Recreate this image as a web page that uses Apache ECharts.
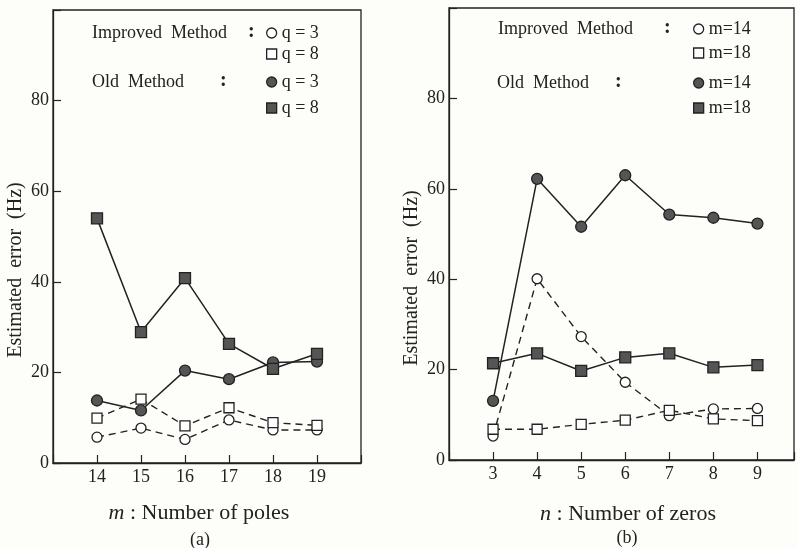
<!DOCTYPE html>
<html>
<head>
<meta charset="utf-8">
<script src="https://cdn.jsdelivr.net/npm/echarts@6/dist/echarts.min.js"></script>
<style>
  html, body { margin: 0; padding: 0; background: #fdfdf9; }
  #chart { width: 797px; height: 548px; }
</style>
</head>
<body>
<div id="chart"></div>
<script>
// (a) m : Number of poles
const poles = [14, 15, 16, 17, 18, 19]
const impQ3 = [5.7, 7.7, 5.2, 9.5, 7.3, 7.3]
const impQ8 = [9.9, 14.1, 8.2, 12.2, 8.9, 8.3]
const oldQ3 = [13.8, 11.6, 20.4, 18.5, 22.2, 22.4]
const oldQ8 = [54.0, 28.9, 40.8, 26.3, 20.8, 24.1]

// (b) n : Number of zeros
const zeros = [3, 4, 5, 6, 7, 8, 9]
const impM14 = [5.3, 40.1, 27.3, 17.2, 9.8, 11.3, 11.4]
const impM18 = [6.8, 6.8, 7.9, 8.8, 11.0, 9.1, 8.7]
const oldM14 = [13.1, 62.2, 51.6, 63.0, 54.3, 53.6, 52.3]
const oldM18 = [21.4, 23.6, 19.7, 22.7, 23.6, 20.5, 21.0]

const yTicks = [0, 20, 40, 60, 80]

const FONT = '"Liberation Serif", "DejaVu Serif", serif'
const INK = '#222'
const FILL = '#555'

const zip = (xs, ys) => xs.map((x, i) => [x, ys[i]])

const chart = echarts.init(document.getElementById('chart'))

const makeX = (idx, min, max, ticks) => ({
  type: 'value',
  gridIndex: idx,
  min, max, interval: 1,
  axisLine: { lineStyle: { color: INK, width: 1.3 } },
  axisTick: { inside: true, length: 8, lineStyle: { color: INK, width: 1.2 } },
  axisLabel: {
    margin: 5,
    color: INK,
    fontFamily: FONT,
    fontSize: 18,
    formatter: v => ticks.includes(v) ? String(v) : ''
  },
  splitLine: { show: false }
})

const makeY = (idx) => ({
  type: 'value',
  gridIndex: idx,
  min: 0, max: 100, interval: 20,
  axisLine: { show: true, lineStyle: { color: INK, width: 1.3 } },
  axisTick: { show: true, inside: true, length: 8, lineStyle: { color: INK, width: 1.2 } },
  axisLabel: {
    margin: 4,
    color: INK,
    fontFamily: FONT,
    fontSize: 18,
    formatter: v => yTicks.includes(v) ? String(v) : ''
  },
  splitLine: { show: false }
})

const makeSeries = (name, idx, xs, ys, filled, symbol) => ({
  name,
  type: 'line',
  xAxisIndex: idx,
  yAxisIndex: idx,
  data: zip(xs, ys),
  symbol,
  symbolSize: filled ? 11 : 10,
  showAllSymbol: true,
  z: filled ? 3 : 2,
  lineStyle: { color: INK, width: filled ? 1.5 : 1.4, type: filled ? 'solid' : [7, 5] },
  itemStyle: { color: filled ? FILL : '#fff', borderColor: INK, borderWidth: 1.3, opacity: 1 },
  emphasis: { disabled: true },
  animation: false
})

const legendRow = (name, left, centerY, filled, icon) => ({
  orient: 'vertical',
  left,
  top: centerY - 10,
  padding: 0,
  itemWidth: 10,
  itemHeight: 10,
  selectedMode: false,
  formatter: n => n.split('|')[1],
  textStyle: { color: INK, fontFamily: FONT, fontSize: 18, lineHeight: 20 },
  data: [{
    name,
    icon,
    itemStyle: { color: filled ? FILL : '#fff', borderColor: INK, borderWidth: 1.3 }
  }]
})

const text = (str, x, y, size, align, extra) => ({
  type: 'text',
  x, y,
  style: Object.assign({
    text: str,
    fill: INK,
    fontFamily: FONT,
    fontSize: size,
    align: align || 'left',
    verticalAlign: 'middle'
  }, extra || {})
})

const option = {
  backgroundColor: '#fdfdf9',
  animation: false,
  grid: [
    { left: 53, top: 10, width: 308, height: 453, show: true, borderColor: INK, borderWidth: 1.3, backgroundColor: 'transparent' },
    { left: 449, top: 8, width: 347, height: 452, show: true, borderColor: INK, borderWidth: 1.3, backgroundColor: 'transparent' }
  ],
  xAxis: [makeX(0, 13, 20, poles), makeX(1, 2, 9.83, zeros)],
  yAxis: [makeY(0), makeY(1)],
  legend: [
    legendRow('a-imp|q = 3', 266, 33, false, 'circle'),
    legendRow('a-imp|q = 8', 266, 54, false, 'rect'),
    legendRow('a-old|q = 3', 266, 82, true, 'circle'),
    legendRow('a-old|q = 8', 266, 108, true, 'rect'),
    legendRow('b-imp|m=14', 693, 29, false, 'circle'),
    legendRow('b-imp|m=18', 693, 53, false, 'rect'),
    legendRow('b-old|m=14', 693, 83, true, 'circle'),
    legendRow('b-old|m=18', 693, 108, true, 'rect')
  ],
  series: [
    makeSeries('a-imp|q = 3', 0, poles, impQ3, false, 'circle'),
    makeSeries('a-imp|q = 8', 0, poles, impQ8, false, 'rect'),
    makeSeries('a-old|q = 3', 0, poles, oldQ3, true, 'circle'),
    makeSeries('a-old|q = 8', 0, poles, oldQ8, true, 'rect'),
    makeSeries('b-imp|m=14', 1, zeros, impM14, false, 'circle'),
    makeSeries('b-imp|m=18', 1, zeros, impM18, false, 'rect'),
    makeSeries('b-old|m=14', 1, zeros, oldM14, true, 'circle'),
    makeSeries('b-old|m=18', 1, zeros, oldM18, true, 'rect')
  ],
  graphic: [
    // legend headings
    text('Improved  Method', 92, 33, 18),
    text(':', 248, 32, 20, 'left', { fontWeight: 'bold' }),
    text('Old  Method', 92, 82, 18),
    text(':', 220, 81, 20, 'left', { fontWeight: 'bold' }),
    text('Improved  Method', 498, 29, 18),
    text(':', 664, 28, 20, 'left', { fontWeight: 'bold' }),
    text('Old  Method', 497, 83, 18),
    text(':', 615, 82, 20, 'left', { fontWeight: 'bold' }),
    // y axis titles
    Object.assign(text('Estimated  error  (Hz)', 16, 270, 20, 'center'), { rotation: Math.PI / 2 }),
    Object.assign(text('Estimated  error  (Hz)', 412, 278, 20, 'center'), { rotation: Math.PI / 2 }),
    // x axis titles
    text('{i|m} : Number of poles', 199, 513, 22, 'center', {
      rich: { i: { fontStyle: 'italic', fontFamily: FONT, fontSize: 22, fill: INK } }
    }),
    text('{i|n} : Number of zeros', 628, 514, 22, 'center', {
      rich: { i: { fontStyle: 'italic', fontFamily: FONT, fontSize: 22, fill: INK } }
    }),
    text('(a)', 200, 540, 18, 'center'),
    text('(b)', 627, 538, 18, 'center')
  ]
}

chart.setOption(option)
</script>
</body>
</html>
